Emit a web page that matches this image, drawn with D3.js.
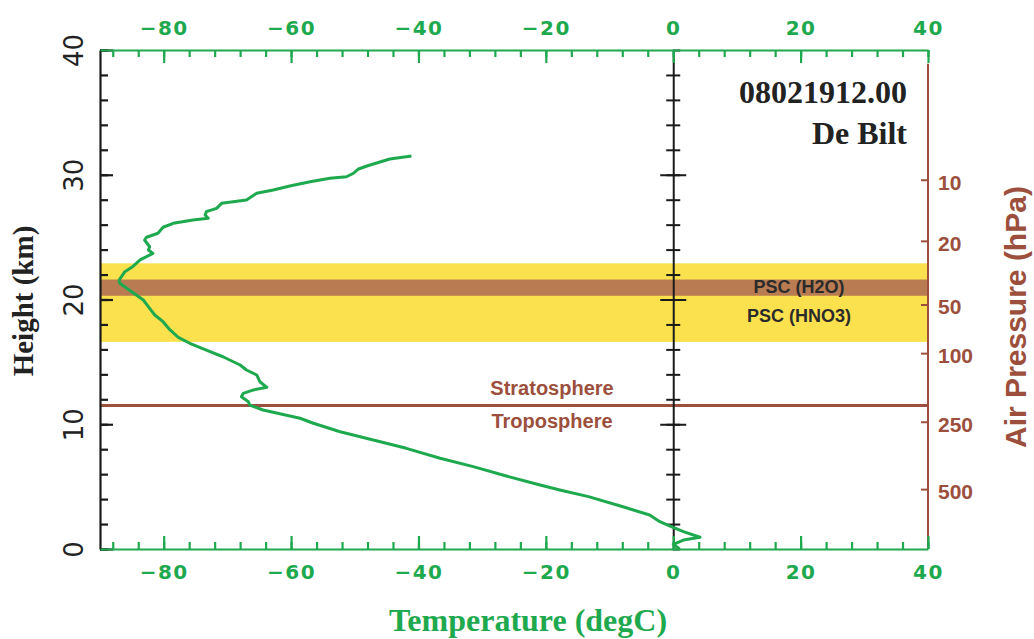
<!DOCTYPE html>
<html>
<head>
<meta charset="utf-8">
<script src="https://cdn.jsdelivr.net/npm/d3@7/dist/d3.min.js"></script>
<style>
  body { margin: 0; background: #fff; }
  svg { display: block; }
</style>
</head>
<body>
<div class="holder"></div>
<script>
// sounding profile
var heightKm = [31.5, 31.26, 30.7, 30.44, 30.12, 29.84, 29.72, 29.44, 29.1, 28.78, 28.51, 27.98, 27.84, 27.71,
  27.31, 27.04, 26.77, 26.51, 26.37, 26.11, 25.79, 25.31, 24.99, 24.77, 24.23, 23.97, 23.7, 23.17, 22.58,
  22.23, 21.56, 21.3, 20.9, 20.36, 19.96, 19.29, 18.76, 18.22, 17.56, 16.97, 16.49, 15.95, 15.41, 14.75,
  14.35, 13.95, 13.41, 12.96, 12.75, 12.48, 12.21, 11.81, 11.54, 11.14, 10.48, 10.08, 9.4, 8.74, 8.07,
  7.27, 6.6, 5.85, 5.13, 4.73, 4.2, 3.39, 2.73, 2.19, 1.84, 1.39, 0.94, 0.72, 0.38, 0.0]
var tempC = [-41.1, -44.5, -48.1, -49.5, -50.2, -51.3, -53.9, -57.0, -60.2, -62.8, -65.4, -67.0, -69.1, -70.9,
  -71.7, -73.3, -73.5, -73.0, -75.4, -78.5, -80.1, -80.9, -82.7, -83.0, -82.2, -82.4, -81.7, -83.7, -85.0,
  -86.1, -87.0, -86.9, -85.8, -84.3, -83.2, -82.2, -81.4, -80.1, -79.0, -77.7, -75.9, -73.3, -70.7, -68.0,
  -67.0, -65.4, -64.9, -63.8, -65.9, -67.5, -67.8, -66.7, -66.5, -64.4, -58.6, -56.5, -52.3, -47.1, -41.9,
  -36.6, -31.4, -26.2, -20.9, -17.8, -13.3, -7.9, -3.7, -2.1, -0.5, 1.6, 4.2, 1.6, 0.0, 1.0]

var tempTicks = [-80, -60, -40, -20, 0, 20, 40]
var heightTicks = [0, 10, 20, 30, 40]
var pressureLabels = [10, 20, 50, 100, 250, 500]
var pressureHeights = [29.6, 24.7, 19.6, 15.7, 10.2, 4.8]
var pressureTop = 38.9

var pscHno3 = [16.6, 22.9]
var pscH2o = [20.3, 21.6]
var tropopause = 11.5

var green = '#1fa94f', brown = '#9b4f3c', black = '#1a1a1a'

var svg = d3.select('.holder').append('svg')
  .attr('width', 1034)
  .attr('height', 639)

var x = d3.scaleLinear().domain([-90, 40]).range([100, 928])
var y = d3.scaleLinear().domain([0, 40]).range([549, 50])

// cloud bands
svg.append('rect')
  .attr('x', x(-90)).attr('width', x(40) - x(-90))
  .attr('y', y(pscHno3[1])).attr('height', y(pscHno3[0]) - y(pscHno3[1]))
  .attr('fill', '#fbe14e')
svg.append('rect')
  .attr('x', x(-90)).attr('width', x(40) - x(-90))
  .attr('y', y(pscH2o[1])).attr('height', y(pscH2o[0]) - y(pscH2o[1]))
  .attr('fill', '#b97c52')

svg.append('line')
  .attr('x1', x(-90)).attr('x2', x(40))
  .attr('y1', y(tropopause)).attr('y2', y(tropopause))
  .attr('stroke', brown).attr('stroke-width', 3)

function styleAxis(g, col, w) {
  g.selectAll('path').attr('stroke', col).attr('stroke-width', w)
  g.selectAll('line').attr('stroke', col).attr('stroke-width', w)
}

// centre axis at 0 degC, ticks both sides
var midMinor = svg.append('g')
  .attr('transform', 'translate(' + x(0) + ',0)')
  .call(d3.axisRight(y).tickValues(d3.range(2, 39, 2)).tickSize(7).tickFormat(''))
midMinor.selectAll('.tick line').attr('x1', -7)
styleAxis(midMinor, black, 2)
var midMajor = svg.append('g')
  .attr('transform', 'translate(' + x(0) + ',0)')
  .call(d3.axisRight(y).tickValues([10, 20, 30]).tickSize(13).tickFormat(''))
midMajor.selectAll('.tick line').attr('x1', -13)
midMajor.select('.domain').remove()
styleAxis(midMajor, black, 2)

// left height axis
var leftMinor = svg.append('g')
  .attr('transform', 'translate(' + x(-90) + ',0)')
  .call(d3.axisLeft(y).tickValues(d3.range(0, 41, 2)).tickSizeInner(-8).tickSizeOuter(0).tickFormat(''))
styleAxis(leftMinor, black, 2.2)
var leftMajor = svg.append('g')
  .attr('transform', 'translate(' + x(-90) + ',0)')
  .call(d3.axisLeft(y).tickValues(heightTicks).tickSizeInner(-13).tickSizeOuter(0))
leftMajor.select('.domain').remove()
styleAxis(leftMajor, black, 2.2)
leftMajor.selectAll('text')
  .attr('x', 0).attr('dy', 0)
  .attr('text-anchor', 'middle')
  .attr('transform', 'translate(-17,0) rotate(-90)')
  .style('font', '26px "DejaVu Sans"')
  .attr('fill', '#222')

// right pressure axis
svg.append('line')
  .attr('x1', x(40)).attr('x2', x(40))
  .attr('y1', y(pressureTop)).attr('y2', y(0))
  .attr('stroke', brown).attr('stroke-width', 2)
var right = svg.append('g')
  .attr('transform', 'translate(' + x(40) + ',0)')
  .call(d3.axisRight(y).tickValues(pressureHeights).tickSizeInner(-7).tickSizeOuter(0).tickPadding(10)
    .tickFormat(function(d, i) { return pressureLabels[i] }))
right.select('.domain').remove()
styleAxis(right, brown, 2)
right.selectAll('text')
  .attr('dy', '0.45em')
  .style('font', 'bold 21px "Liberation Sans", Arial, sans-serif')
  .attr('fill', brown)

// temperature axes, top and bottom
function tempAxis(axisFn, ypos, pad) {
  var minor = svg.append('g')
    .attr('transform', 'translate(0,' + ypos + ')')
    .call(axisFn(x).tickValues(d3.range(-88, 41, 4)).tickSizeInner(-7).tickSizeOuter(0).tickFormat(''))
  styleAxis(minor, green, 2.2)
  var major = svg.append('g')
    .attr('transform', 'translate(0,' + ypos + ')')
    .call(axisFn(x).tickValues(tempTicks).tickSizeInner(-13).tickSizeOuter(0).tickPadding(pad))
  major.select('.domain').remove()
  styleAxis(major, green, 2.2)
  major.selectAll('text')
    .style('font', 'bold 20px "DejaVu Sans"')
    .style('letter-spacing', '1.5px')
    .attr('fill', green)
}
tempAxis(d3.axisTop, y(40), 15)
tempAxis(d3.axisBottom, y(0), 16)

// temperature profile
var profile = heightKm.map(function(h, i) { return [tempC[i], h] })
svg.append('path')
  .datum(profile)
  .attr('fill', 'none')
  .attr('stroke', green)
  .attr('stroke-width', 3)
  .attr('stroke-linejoin', 'round')
  .attr('d', d3.line()
    .x(function(d) { return x(d[0]) })
    .y(function(d) { return y(d[1]) }))

// labels
var sans = '"Liberation Sans", Arial, sans-serif'
var serif = '"Liberation Serif", "Times New Roman", serif'

svg.append('text').text('Stratosphere')
  .attr('x', 552).attr('y', 395).attr('text-anchor', 'middle')
  .style('font', 'bold 20px ' + sans).attr('fill', brown)
svg.append('text').text('Troposphere')
  .attr('x', 552).attr('y', 428).attr('text-anchor', 'middle')
  .style('font', 'bold 20px ' + sans).attr('fill', brown)

svg.append('text').text('PSC (H2O)')
  .attr('x', 799).attr('y', 293).attr('text-anchor', 'middle')
  .style('font', 'bold 18px ' + sans).attr('fill', '#2b2b2b')
svg.append('text').text('PSC (HNO3)')
  .attr('x', 799).attr('y', 322).attr('text-anchor', 'middle')
  .style('font', 'bold 18px ' + sans).attr('fill', '#2b2b2b')

svg.append('text').text('08021912.00')
  .attr('x', 907).attr('y', 103).attr('text-anchor', 'end')
  .style('font', 'bold 32px ' + serif).attr('fill', '#222')
svg.append('text').text('De Bilt')
  .attr('x', 907).attr('y', 144).attr('text-anchor', 'end')
  .style('font', 'bold 32px ' + serif).attr('fill', '#222')

svg.append('text').text('Height (km)')
  .attr('transform', 'translate(33,301) rotate(-90)')
  .attr('text-anchor', 'middle')
  .style('font', 'bold 29px ' + serif).attr('fill', '#222')

svg.append('text').text('Temperature (degC)')
  .attr('x', 528).attr('y', 631).attr('text-anchor', 'middle')
  .style('font', 'bold 32px ' + serif).attr('fill', green)

svg.append('text').text('Air Pressure (hPa)')
  .attr('transform', 'translate(1026,317) rotate(-90)')
  .attr('text-anchor', 'middle')
  .style('font', 'bold 30px ' + sans).attr('fill', brown)
</script>
</body>
</html>
